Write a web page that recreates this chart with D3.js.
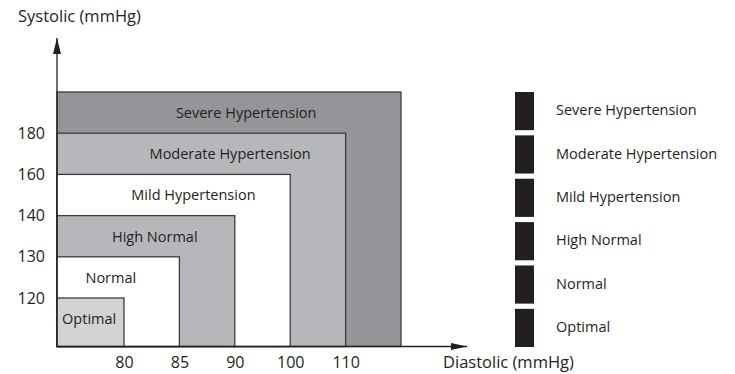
<!DOCTYPE html>
<html>
<head>
<meta charset="utf-8">
<script src="https://cdn.jsdelivr.net/npm/d3@7"></script>
<style>
  body { margin: 0; background: #fff; }
  svg text { font-family: "Open Sans", "Noto Sans", sans-serif; fill: #231f20; }
</style>
</head>
<body>
<div id="chart"></div>
<script>
// blood pressure classes, lowest first
var categories = ["Optimal", "Normal", "High Normal", "Mild Hypertension", "Moderate Hypertension", "Severe Hypertension"];
var diastolicLimits = ["80", "85", "90", "100", "110", "max"];
var systolicLimits = ["120", "130", "140", "160", "180", "max"];
var xTickLabels = ["80", "85", "90", "100", "110"];
var yTickLabels = ["120", "130", "140", "160", "180"];
var fills = ["#d3d3d4", "#ffffff", "#b6b7ba", "#ffffff", "#b6b7ba", "#939598"];
// where the label sits along each band (fraction of band width)
var labelPos = [0.48, 0.44, 0.55, 0.585, 0.60, 0.55];

var width = 735, height = 374,
    x0 = 57, y0 = 346.5;

var svg = d3.select("#chart").append("svg")
    .attr("width", width)
    .attr("height", height);

var xScale = d3.scalePoint().domain(diastolicLimits).range([124, 401]);
var yScale = d3.scalePoint().domain(systolicLimits).range([298, 92]);

var defs = svg.append("defs");
defs.append("marker")
    .attr("id", "arrowUp")
    .attr("viewBox", "0 0 8 16")
    .attr("refX", 4).attr("refY", 0)
    .attr("markerWidth", 8).attr("markerHeight", 16)
    .attr("markerUnits", "userSpaceOnUse")
    .attr("orient", "0")
  .append("path")
    .attr("d", "M0,16 L4,0 L8,16 Z")
    .attr("fill", "#231f20");
defs.append("marker")
    .attr("id", "arrowRight")
    .attr("viewBox", "0 0 16 7")
    .attr("refX", 16).attr("refY", 3.5)
    .attr("markerWidth", 16).attr("markerHeight", 7)
    .attr("markerUnits", "userSpaceOnUse")
    .attr("orient", "0")
  .append("path")
    .attr("d", "M0,0 L16,3.5 L0,7 Z")
    .attr("fill", "#231f20");

// nested bands, biggest first
var bands = categories.map(function(c, i) {
  return {name: c, dia: diastolicLimits[i], sys: systolicLimits[i], fill: fills[i], pos: labelPos[i]};
}).reverse();

var band = svg.selectAll(".band")
    .data(bands)
    .enter().append("g")
    .attr("class", "band");

band.append("rect")
    .attr("x", x0)
    .attr("y", function(d) { return yScale(d.sys); })
    .attr("width", function(d) { return xScale(d.dia) - x0; })
    .attr("height", function(d) { return y0 - yScale(d.sys); })
    .attr("fill", function(d) { return d.fill; })
    .attr("stroke", "#3c3c3e")
    .attr("stroke-width", 1.3);

band.append("text")
    .attr("x", function(d) { return x0 + (xScale(d.dia) - x0) * d.pos; })
    .attr("y", function(d) { return yScale(d.sys) + 26; })
    .attr("text-anchor", "middle")
    .style("font-size", "14.5px")
    .text(function(d) { return d.name; });

// axes
svg.append("line")
    .attr("x1", x0).attr("y1", y0)
    .attr("x2", x0).attr("y2", 38)
    .attr("stroke", "#231f20").attr("stroke-width", 1.3)
    .attr("marker-end", "url(#arrowUp)");
svg.append("line")
    .attr("x1", x0).attr("y1", y0)
    .attr("x2", 467).attr("y2", y0)
    .attr("stroke", "#231f20").attr("stroke-width", 1.3)
    .attr("marker-end", "url(#arrowRight)");

var xAxis = d3.axisBottom(xScale).tickValues(xTickLabels).tickSize(0).tickPadding(10);
var yAxis = d3.axisLeft(yScale).tickValues(yTickLabels).tickSize(0).tickPadding(12);

var gx = svg.append("g")
    .attr("transform", "translate(0," + y0 + ")")
    .call(xAxis);
var gy = svg.append("g")
    .attr("transform", "translate(" + x0 + ",0)")
    .call(yAxis);
[gx, gy].forEach(function(g) {
  g.select(".domain").remove();
  g.selectAll("text")
    .style("font-family", '"Open Sans", "Noto Sans", sans-serif')
    .style("font-size", "16px")
    .attr("fill", "#231f20");
});

svg.append("text")
    .attr("x", 18).attr("y", 22)
    .style("font-size", "16.5px")
    .text("Systolic (mmHg)");
svg.append("text")
    .attr("x", 443).attr("y", 368)
    .style("font-size", "16.5px")
    .text("Diastolic (mmHg)");

// legend (top = most severe)
var legendScale = d3.scaleBand().domain(categories.slice().reverse()).range([92, 347]).paddingInner(0.12);

var legend = svg.selectAll(".legend")
    .data(categories.slice().reverse())
    .enter().append("g")
    .attr("class", "legend")
    .attr("transform", function(d) { return "translate(515," + legendScale(d) + ")"; });

legend.append("rect")
    .attr("width", 19)
    .attr("height", legendScale.bandwidth())
    .attr("fill", "#231f20");

legend.append("text")
    .attr("x", 41)
    .attr("y", legendScale.bandwidth() / 2 - 1)
    .attr("dy", "0.35em")
    .style("font-size", "14.5px")
    .text(function(d) { return d; });
</script>
</body>
</html>
